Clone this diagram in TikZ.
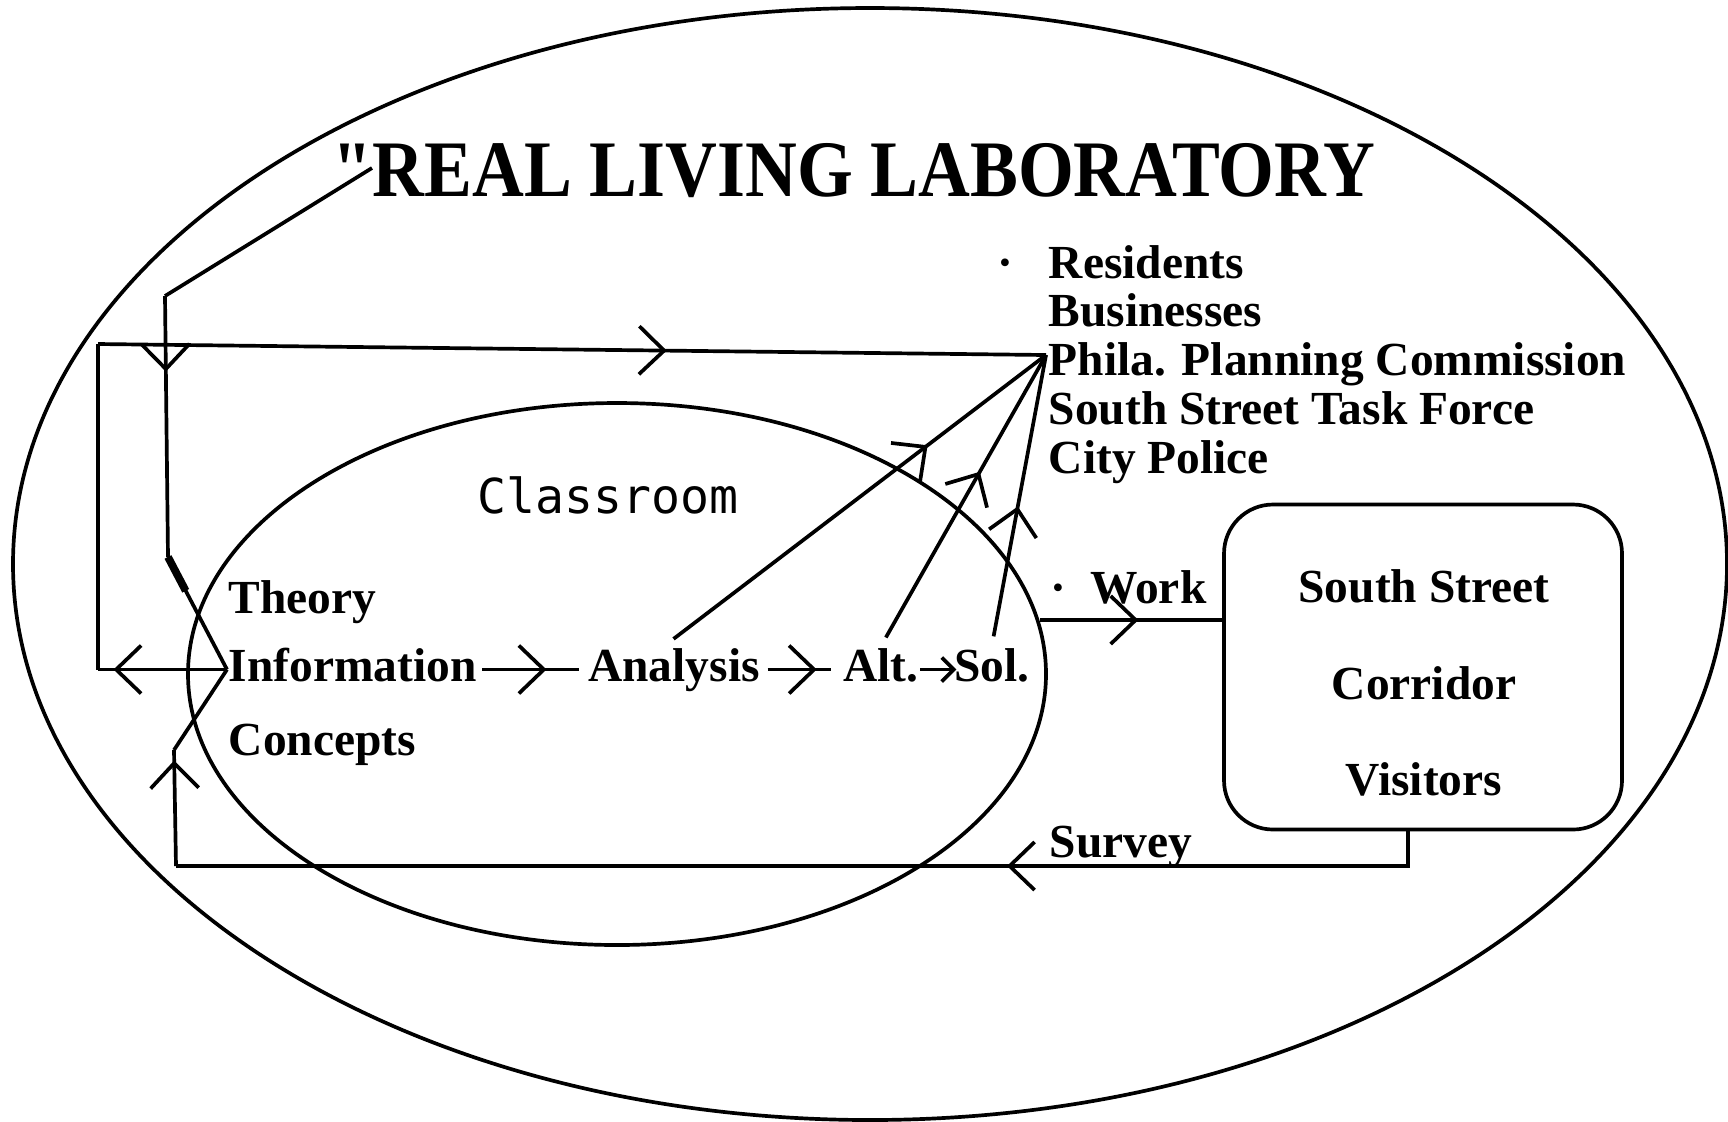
\documentclass[tikz,border=0pt]{standalone}
\usepackage{fontspec}
\setmainfont{Liberation Serif}
\newfontfamily\titlefont{Liberation Serif}
\newfontfamily\roomfont{DejaVu Sans Mono}
\usepackage{graphicx}
\usetikzlibrary{arrows.meta, positioning, calc, decorations.markings}

\begin{document}
\begin{tikzpicture}[
      x=0.1mm, y=-0.1mm,
      line width=1.05pt,
      barb/.tip={Straight Barb[length=2.5mm, width=4.8mm]},
      lbl/.style={font=\fontsize{13.5}{16}\selectfont\bfseries, inner sep=0pt, text height=3.3mm, text depth=1mm},
      flow/.style={postaction={decorate}, decoration={markings, mark=at position #1 with {\arrow{barb}}}},
      box/.style={draw, rounded corners=4.9mm, minimum width=39.8mm, minimum height=32.5mm},
    ]
    \useasboundingbox (0,0) rectangle (1728,1121);

    % laboratory and classroom
    \draw (870,564) ellipse [x radius=85.7mm, y radius=55.6mm];
    \draw (617,674) ellipse [x radius=42.9mm, y radius=27.1mm];

    \node[anchor=base west, inner sep=0pt, font=\titlefont\fontsize{22.8}{27}\selectfont\bfseries] (title) at (331,196)
      {\scalebox{0.895}[1]{"REAL LIVING LABORATORY}};
    \node[anchor=base west, inner sep=0pt, font=\roomfont\fontsize{13.7}{16}\selectfont] (room) at (476,513) {Classroom};

    \node[lbl, anchor=base west] (info) at (227,681) {Information};
    \node[lbl, above=2.1mm of info.north west, anchor=south west] (theory) {Theory};
    \node[lbl, below=2.8mm of info.south west, anchor=north west] (concepts) {Concepts};
    \node[lbl, right=10.8mm of info] (analysis) {Analysis};
    \node[lbl, right=8mm of analysis] (alt) {Alt.};
    \node[lbl, right=3.2mm of alt] (sol) {Sol.};

    \node[lbl, anchor=base west] (res) at (1047,278) {Residents};
    \node[lbl, below=0.22mm of res.south west, anchor=north west] (bus) {Businesses};
    \node[lbl, below=0.22mm of bus.south west, anchor=north west] (phila) {Phila. Planning Commission};
    \node[lbl, below=0.22mm of phila.south west, anchor=north west] (task) {South Street Task Force};
    \node[lbl, below=0.22mm of task.south west, anchor=north west] (police) {City Police};
    \node[lbl, anchor=base east] (resdot) at ([xshift=-3.2mm]res.base west) {·};

    \node[box] (corr) at (1423,667) {};
    \node[lbl, anchor=base] (ss) at (1424,602) {South Street};
    \node[lbl, below=5.1mm of ss] (cor) {Corridor};
    \node[lbl, below=4.9mm of cor] (vis) {Visitors};

    \node[lbl, anchor=base west] (work) at (1049,603) {·~~Work};
    \node[lbl, anchor=base west] (survey) at (1048,857) {Survey};

    \coordinate (hub) at (1046,355);
    \coordinate (tq) at (372,168);
    \coordinate (tbend) at (165,296);
    \coordinate (tdown) at (168,557);
    \coordinate (lnw) at (98,344);
    \coordinate (lsw) at (info.west -| lnw);
    \coordinate (bl) at (176,866);
    \coordinate (bup) at (174,750);
    \coordinate (wk) at (1040,620);

    % feedback from the laboratory into the classroom
    \draw (tq) -- (tbend);
    \draw[flow=0.29] (tbend) -- (tdown);
    \draw (tdown) -- (info.west);
    \draw[line width=2.2pt] (tdown) -- ($(tdown)!0.3!(info.west)$);

    \draw[flow=0.88] (info.west) -- (lsw);
    \draw (lsw) -- (lnw);
    \draw[flow=0.6] (lnw) -- (hub);

    \draw[flow=0.344] ([xshift=-1.5mm]corr.south) |- (bl);
    \draw[flow=0.91] (bl) -- (bup);
    \draw (bup) -- (info.west);

    \draw[flow=0.63, shorten <=0.4mm, shorten >=0.7mm] (info) -- (analysis);
    \draw[flow=0.69, shorten <=0.6mm, shorten >=1.1mm] (analysis) -- (alt);
    \draw[-{Straight Barb[length=1.2mm, width=2.4mm]}, shorten >=-0.4mm] (alt) -- (sol);

    \draw[flow=0.69, shorten <=1.2mm] ([xshift=-1mm]analysis.north) -- (hub);
    \draw[flow=0.6, shorten <=1mm] (alt.north) -- (hub);
    \draw[flow=0.48, shorten <=1mm] (sol.north) -- (hub);

    \draw[flow=0.54] (wk) -- (wk -| corr.west);
  \end{tikzpicture}
\end{document}
